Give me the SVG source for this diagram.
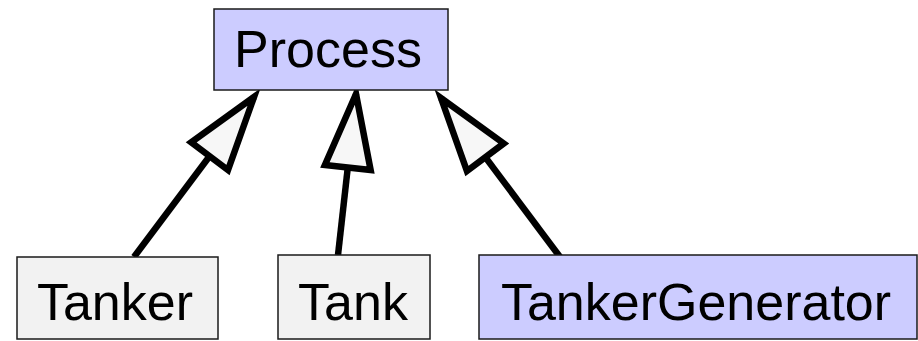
<svg xmlns="http://www.w3.org/2000/svg" width="918" height="341" viewBox="0 0 918 341">
  <style>
    .box { stroke: #1a1a1a; stroke-width: 1.5; }
    .abstract { fill: #ccccff; }
    .concrete { fill: #f2f2f2; }
    .label { font-family: "Liberation Sans", Arial, sans-serif; font-size: 52px; fill: #000; text-anchor: middle; }
    .edge { stroke: #000; stroke-width: 6.5; fill: none; }
  </style>
  <defs>
    <marker id="inherit" markerUnits="userSpaceOnUse" viewBox="-80 -30 90 60" markerWidth="90" markerHeight="60" refX="0" refY="0" orient="auto" overflow="visible">
      <path d="M0,0 L-74,-23 L-74,23 Z" fill="#f7f7f7" stroke="#000" stroke-width="6.5" stroke-linejoin="miter"/>
    </marker>
  </defs>

  <g id="connectors">
    <line class="edge" x1="134" y1="257" x2="254" y2="97" marker-end="url(#inherit)"/>
    <line class="edge" x1="338" y1="255" x2="356" y2="94" marker-end="url(#inherit)"/>
    <line class="edge" x1="560" y1="257" x2="441" y2="98" marker-end="url(#inherit)"/>
  </g>

  <g id="process">
    <rect class="box abstract" x="214" y="9" width="234" height="81"/>
    <text class="label" x="328" y="67">Process</text>
  </g>

  <g id="tanker">
    <rect class="box concrete" x="17" y="257" width="201" height="82"/>
    <text class="label" x="115" y="320">Tanker</text>
  </g>

  <g id="tank">
    <rect class="box concrete" x="278" y="255" width="152" height="84"/>
    <text class="label" x="353" y="320">Tank</text>
  </g>

  <g id="tanker-generator">
    <rect class="box abstract" x="479" y="255" width="438" height="84"/>
    <text class="label" x="696" y="320">TankerGenerator</text>
  </g>
</svg>
